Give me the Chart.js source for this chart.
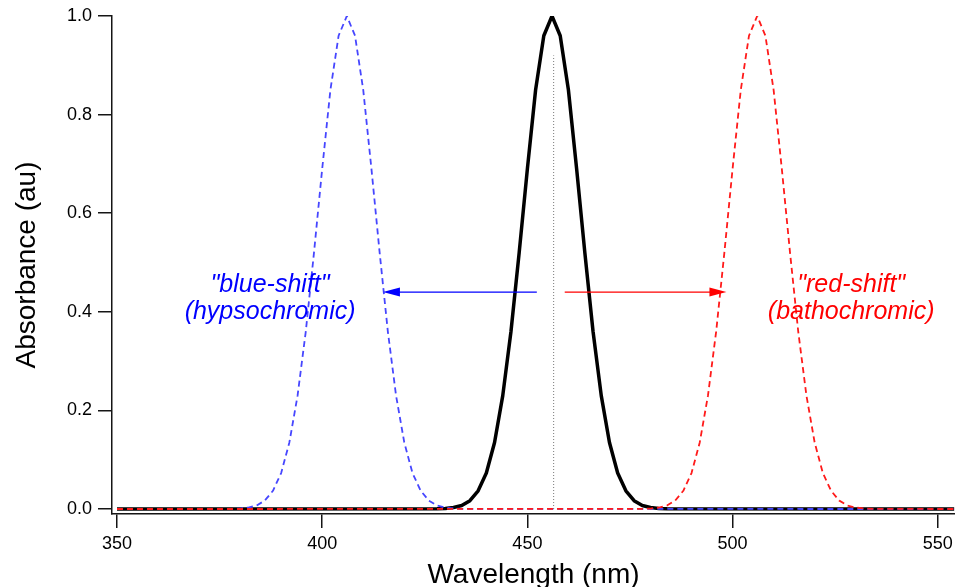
<!DOCTYPE html>
<html>
<head>
<meta charset="utf-8">
<script src="https://cdn.jsdelivr.net/npm/chart.js@4"></script>
<style>
html,body{margin:0;padding:0;background:#fff;}
canvas{display:block;}
</style>
</head>
<body>
<canvas id="c" width="955" height="587"></canvas>
<script>
// ---- data ----
const blackNm  = [350,428,430,432,434,436,438,440,442,444,446,448,450,452,454,456,458,460,462,464,466,468,470,472,474,476,478,480,482,484,554];
const blackAbs = [0,0.0003,0.001,0.003,0.007,0.017,0.037,0.073,0.135,0.23,0.36,0.52,0.69,0.85,0.96,1.0,0.96,0.85,0.69,0.52,0.36,0.23,0.135,0.073,0.037,0.017,0.007,0.003,0.001,0.0003,0];
const blueNm   = [350,378,380,382,384,386,388,390,392,394,396,398,400,402,404,406,408,410,412,414,416,418,420,422,424,426,428,430,432,434,554];
const blueAbs  = [0,0.0003,0.001,0.003,0.007,0.017,0.037,0.073,0.135,0.23,0.36,0.52,0.69,0.85,0.96,1.0,0.96,0.85,0.69,0.52,0.36,0.23,0.135,0.073,0.037,0.017,0.007,0.003,0.001,0.0003,0];
const redNm    = [350,478,480,482,484,486,488,490,492,494,496,498,500,502,504,506,508,510,512,514,516,518,520,522,524,526,528,530,532,534,554];
const redAbs   = [0,0.0003,0.001,0.003,0.007,0.017,0.037,0.073,0.135,0.23,0.36,0.52,0.69,0.85,0.96,1.0,0.96,0.85,0.69,0.52,0.36,0.23,0.135,0.073,0.037,0.017,0.007,0.003,0.001,0.0003,0];
const markerNm  = [456.4,456.4];
const markerAbs = [0,0.92];
const xTicks = [350,400,450,500,550];
const yTicks = [0,0.2,0.4,0.6,0.8,1.0];
const xTitle = 'Wavelength (nm)';
const yTitle = 'Absorbance (au)';
const blueLabel = ['"blue-shift"','(hypsochromic)'];
const redLabel  = ['"red-shift"','(bathochromic)'];

const toPts = (xs, ys) => xs.map((x, i) => ({x: x, y: ys[i]}));

// annotation placement (data coordinates)
const annotations = {
  arrows: [
    {x0: 452.3, x1: 414.8, y: 0.44, color: '#0000ff'},
    {x0: 459.1, x1: 498.5, y: 0.44, color: '#ff0000'}
  ],
  texts: [
    {x: 387.3, ys: [0.441, 0.386], lines: blueLabel, color: '#0000ff'},
    {x: 528.9, ys: [0.441, 0.386], lines: redLabel, color: '#ff0000'}
  ]
};

const FONT = '"Liberation Sans", Arial, Helvetica, sans-serif';

const annotationPlugin = {
  id: 'shiftAnnotations',
  afterDatasetsDraw(chart) {
    const ctx = chart.ctx;
    const xs = chart.scales.x, ys = chart.scales.y;
    ctx.save();
    annotations.arrows.forEach(a => {
      const px0 = xs.getPixelForValue(a.x0);
      const px1 = xs.getPixelForValue(a.x1);
      const py = ys.getPixelForValue(a.y);
      const dir = Math.sign(px1 - px0);
      const headLen = 17, headHalf = 4.5;
      ctx.strokeStyle = a.color;
      ctx.fillStyle = a.color;
      ctx.lineWidth = 1.4;
      ctx.beginPath();
      ctx.moveTo(px0, py);
      ctx.lineTo(px1 - dir * headLen * 0.8, py);
      ctx.stroke();
      ctx.beginPath();
      ctx.moveTo(px1, py);
      ctx.lineTo(px1 - dir * headLen, py - headHalf);
      ctx.lineTo(px1 - dir * headLen, py + headHalf);
      ctx.closePath();
      ctx.fill();
    });
    ctx.font = 'italic 25px ' + FONT;
    ctx.textAlign = 'center';
    ctx.textBaseline = 'alphabetic';
    annotations.texts.forEach(t => {
      ctx.fillStyle = t.color;
      const px = xs.getPixelForValue(t.x);
      t.lines.forEach((line, i) => {
        ctx.fillText(line, px, ys.getPixelForValue(t.ys[i]));
      });
    });
    ctx.restore();
  }
};

const axisColor = '#151515';

new Chart(document.getElementById('c'), {
  type: 'line',
  data: {
    datasets: [
      {data: toPts(redNm, redAbs), borderColor: '#ff1a1a', borderWidth: 1.8, borderDash: [6, 4], pointRadius: 0, fill: false},
      {data: toPts(blueNm, blueAbs), borderColor: '#4646ff', borderWidth: 1.8, borderDash: [6, 4], pointRadius: 0, fill: false},
      {data: toPts(blackNm, blackAbs), borderColor: '#000000', borderWidth: 3.5, pointRadius: 0, fill: false},
      {data: toPts(markerNm, markerAbs), borderColor: '#777777', borderWidth: 1, borderDash: [1, 2], pointRadius: 0, fill: false}
    ]
  },
  options: {
    responsive: false,
    animation: false,
    devicePixelRatio: 1,
    layout: {padding: {top: 16, left: 0, right: 0, bottom: 0}},
    plugins: {legend: {display: false}, tooltip: {enabled: false}},
    elements: {line: {tension: 0, borderJoinStyle: 'round'}},
    scales: {
      x: {
        type: 'linear',
        min: 348.78,
        max: 554.2,
        afterBuildTicks(s) { s.ticks = xTicks.map(v => ({value: v})); },
        afterFit(s) { s.height = 73; s.paddingLeft = 0; s.paddingRight = 0; },
        grid: {drawOnChartArea: false, drawTicks: true, tickLength: 14, color: axisColor, lineWidth: 1.5},
        border: {display: true, color: axisColor, width: 1.5},
        ticks: {color: '#000', font: {family: FONT, size: 18}, padding: 5, maxRotation: 0, callback: v => String(v)},
        title: {display: true, text: xTitle, color: '#000', font: {family: FONT, size: 28, lineHeight: 1}, padding: {top: 0, bottom: -2}}
      },
      y: {
        type: 'linear',
        min: -0.0101,
        max: 1.0,
        afterBuildTicks(s) { s.ticks = yTicks.map(v => ({value: v})); },
        afterFit(s) { s.width = 112; s.paddingTop = 0; s.paddingBottom = 0; },
        grid: {drawOnChartArea: false, drawTicks: true, tickLength: 14, color: axisColor, lineWidth: 1.5},
        border: {display: true, color: axisColor, width: 1.5},
        ticks: {color: '#000', font: {family: FONT, size: 18}, padding: 6, callback: v => v.toFixed(1)},
        title: {display: true, text: yTitle, color: '#000', font: {family: FONT, size: 28, lineHeight: 1}, padding: {top: 13, bottom: 0}}
      }
    }
  },
  plugins: [annotationPlugin]
});
</script>
</body>
</html>
